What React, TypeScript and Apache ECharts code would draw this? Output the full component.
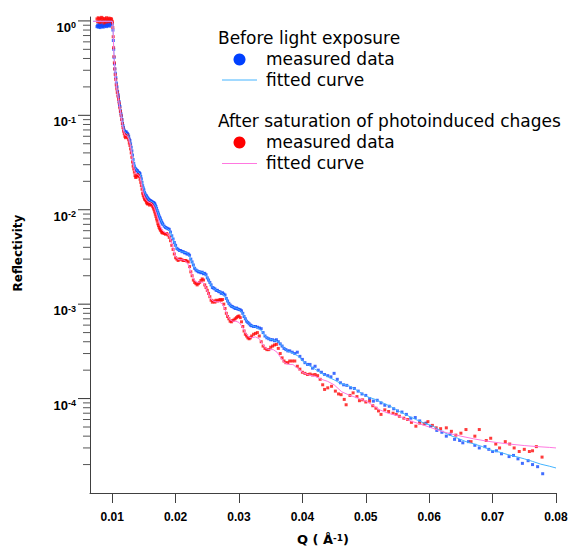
import React, { useEffect, useRef } from 'react';
import * as echarts from 'echarts';

// ---- axis tick values ----
const xTickValues = [0.01, 0.02, 0.03, 0.04, 0.05, 0.06, 0.07, 0.08];
const yMajorTicks = [1e-4, 1e-3, 1e-2, 1e-1, 1];
const yMinorTicks = [
  2e-5, 3e-5, 4e-5, 5e-5, 6e-5, 7e-5, 8e-5, 9e-5,
  2e-4, 3e-4, 4e-4, 5e-4, 6e-4, 7e-4, 8e-4, 9e-4,
  2e-3, 3e-3, 4e-3, 5e-3, 6e-3, 7e-3, 8e-3, 9e-3,
  2e-2, 3e-2, 4e-2, 5e-2, 6e-2, 7e-2, 8e-2, 9e-2,
  0.2, 0.3, 0.4, 0.5, 0.6, 0.7, 0.8, 0.9,
];

// ---- Before light exposure: measured data [Q, R] ----
const beforeMeasured: [number, number][] = [
  [0.0076, 0.87], [0.0077, 0.9], [0.0078, 0.86], [0.0079, 0.92], [0.008, 0.88], [0.0081, 0.85], [0.0082, 0.9],
  [0.0083, 0.93], [0.0084, 0.87], [0.0085, 0.89], [0.0086, 0.86], [0.0087, 0.91], [0.0088, 0.88], [0.0089, 0.94],
  [0.009, 0.9], [0.0091, 0.87], [0.0092, 0.92], [0.0093, 0.89], [0.0094, 0.95], [0.0095, 0.9], [0.0096, 0.88],
  [0.0097, 0.93], [0.0098, 0.97], [0.0099, 0.95], [0.01, 0.92],
  [0.01012, 0.8], [0.01018, 0.62], [0.01024, 0.5], [0.0103, 0.41], [0.01036, 0.35], [0.01042, 0.31], [0.0105, 0.28],
  [0.01058, 0.25], [0.01066, 0.22], [0.01075, 0.2], [0.01085, 0.18], [0.01095, 0.165], [0.011, 0.155], [0.01108, 0.14],
  [0.01115, 0.13], [0.01122, 0.124], [0.0113, 0.112], [0.01138, 0.104], [0.01146, 0.098], [0.01155, 0.09],
  [0.01163, 0.083], [0.0117, 0.078], [0.01178, 0.074], [0.01186, 0.07], [0.01195, 0.068], [0.012, 0.0665],
  [0.0121, 0.066], [0.0122, 0.067], [0.0123, 0.065], [0.0124, 0.064], [0.0125, 0.0625], [0.0126, 0.06],
  [0.0127, 0.056], [0.0128, 0.054], [0.0129, 0.05], [0.013, 0.046], [0.0131, 0.042], [0.0132, 0.038],
  [0.0133, 0.034], [0.0134, 0.031], [0.0135, 0.029], [0.0136, 0.0275], [0.0137, 0.027], [0.0138, 0.0265],
  [0.0139, 0.026], [0.014, 0.0258], [0.0141, 0.025], [0.0142, 0.0248], [0.0143, 0.0245], [0.0144, 0.024],
  [0.0145, 0.0225], [0.0146, 0.0212], [0.0147, 0.0195], [0.0148, 0.018], [0.0149, 0.017], [0.015, 0.0162],
  [0.0151, 0.0152], [0.0152, 0.0147], [0.0153, 0.0142], [0.0154, 0.014], [0.0155, 0.0136], [0.0156, 0.0133],
  [0.0157, 0.013], [0.0158, 0.0128], [0.0159, 0.0126], [0.016, 0.0125], [0.0161, 0.0124], [0.0162, 0.0122],
  [0.0163, 0.0121], [0.0164, 0.012], [0.0165, 0.0119], [0.0166, 0.0118], [0.0167, 0.0116], [0.0168, 0.0112],
  [0.0169, 0.0108], [0.017, 0.0103], [0.0171, 0.0098], [0.0172, 0.0094], [0.0173, 0.009], [0.0174, 0.0086],
  [0.0175, 0.0083], [0.0176, 0.008], [0.0177, 0.0077], [0.0178, 0.0074], [0.0179, 0.0072], [0.018, 0.007],
  [0.0182, 0.0067], [0.0184, 0.0065], [0.0186, 0.0064], [0.0188, 0.0063], [0.019, 0.0062], [0.0192, 0.0058],
  [0.0194, 0.0053], [0.0196, 0.0049], [0.0198, 0.0045], [0.02, 0.0042], [0.0202, 0.0039], [0.0204, 0.0038],
  [0.0206, 0.0037], [0.0208, 0.0037], [0.021, 0.0036], [0.0212, 0.0036], [0.0214, 0.0035], [0.0216, 0.0035],
  [0.0218, 0.0034], [0.022, 0.0034], [0.0222, 0.0033], [0.0224, 0.003], [0.0226, 0.0028], [0.0228, 0.0026],
  [0.023, 0.0024], [0.0232, 0.0023], [0.0234, 0.00225], [0.0236, 0.0022], [0.0238, 0.0022], [0.024, 0.00215],
  [0.0242, 0.00218], [0.0244, 0.0021], [0.0246, 0.00212], [0.0248, 0.00205], [0.025, 0.0019], [0.0252, 0.0018],
  [0.0254, 0.0017], [0.0256, 0.0016], [0.0258, 0.0015], [0.026, 0.00148], [0.0262, 0.00145], [0.0264, 0.0014],
  [0.0266, 0.0014], [0.0268, 0.00136], [0.027, 0.00135], [0.0272, 0.0013], [0.0274, 0.00132], [0.0276, 0.00128],
  [0.0278, 0.00125], [0.028, 0.00115], [0.0282, 0.00108], [0.0284, 0.00102], [0.0286, 0.00098], [0.0288, 0.00095],
  [0.029, 0.00094], [0.0292, 0.00092], [0.0294, 0.0009], [0.0296, 0.00091], [0.0298, 0.00089], [0.03, 0.00088],
  [0.0302, 0.00087], [0.0304, 0.00085], [0.0306, 0.0008], [0.0308, 0.00074], [0.031, 0.0007], [0.0312, 0.00066],
  [0.0314, 0.00064], [0.0316, 0.00062], [0.0318, 0.0006], [0.032, 0.00059], [0.0323, 0.00058], [0.0326, 0.00058],
  [0.0329, 0.00057], [0.0332, 0.00056], [0.0335, 0.00055], [0.0338, 0.0005], [0.0341, 0.00046], [0.0344, 0.00044],
  [0.0347, 0.00043], [0.035, 0.00042], [0.0353, 0.00042], [0.0356, 0.00041], [0.0359, 0.00042], [0.0362, 0.0004],
  [0.0365, 0.00038], [0.0368, 0.00036], [0.0371, 0.00034], [0.0374, 0.00033], [0.0377, 0.00032], [0.038, 0.00032],
  [0.0384, 0.00031], [0.0388, 0.0003], [0.0392, 0.00031], [0.0396, 0.00028], [0.04, 0.00026], [0.0404, 0.00024],
  [0.0408, 0.00023], [0.0412, 0.00023], [0.0416, 0.00021], [0.042, 0.00022], [0.0425, 0.0002], [0.043, 0.00019],
  [0.0435, 0.00018], [0.044, 0.000175], [0.0445, 0.00017], [0.045, 0.000185], [0.0455, 0.00016], [0.046, 0.000147],
  [0.0465, 0.00014], [0.047, 0.000138], [0.0476, 0.00013], [0.0482, 0.000128], [0.0488, 0.00012], [0.0494, 0.000112],
  [0.05, 0.000108], [0.0506, 0.0001], [0.0512, 9.4e-5], [0.0518, 9.6e-5], [0.0524, 9.0e-5], [0.053, 8.5e-5],
  [0.0537, 8.3e-5], [0.0544, 7.8e-5], [0.055, 7.4e-5], [0.0557, 7.2e-5], [0.0564, 6.8e-5], [0.0571, 6.2e-5],
  [0.0578, 6.3e-5], [0.0585, 5.8e-5], [0.0595, 5.5e-5], [0.0602, 5.1e-5], [0.0612, 4.6e-5], [0.062, 4.4e-5],
  [0.0627, 4.0e-5], [0.0633, 4.2e-5], [0.064, 3.7e-5], [0.0648, 3.6e-5], [0.0653, 3.4e-5], [0.0662, 3.5e-5],
  [0.0672, 3.2e-5], [0.0679, 3.0e-5], [0.0688, 3.1e-5], [0.0694, 2.9e-5], [0.07, 2.75e-5], [0.0706, 2.8e-5],
  [0.0714, 2.6e-5], [0.0726, 2.43e-5], [0.0733, 2.5e-5], [0.074, 2.3e-5], [0.0747, 2.06e-5], [0.0756, 2.2e-5],
  [0.0763, 2.0e-5], [0.0771, 1.9e-5], [0.0779, 1.6e-5],
];

// ---- After saturation: measured data [Q, R] ----
const afterMeasured: [number, number][] = [
  [0.0076, 1.05], [0.0077, 0.98], [0.0078, 1.08], [0.0079, 1.0], [0.008, 1.06], [0.0081, 0.96], [0.0082, 1.04],
  [0.0083, 1.09], [0.0084, 0.99], [0.0085, 1.07], [0.0086, 1.02], [0.0087, 0.95], [0.0088, 1.06], [0.0089, 1.03],
  [0.009, 0.97], [0.0091, 1.08], [0.0092, 1.01], [0.0093, 1.05], [0.0094, 0.98], [0.0095, 1.07], [0.0096, 1.03],
  [0.0097, 1.0], [0.0098, 1.06], [0.0099, 1.04], [0.01, 0.99], [0.01005, 0.95],
  [0.0101, 0.85], [0.01016, 0.68], [0.01022, 0.52], [0.01028, 0.42], [0.01034, 0.36], [0.0104, 0.31], [0.01048, 0.27],
  [0.01056, 0.24], [0.01064, 0.21], [0.01072, 0.19], [0.0108, 0.175], [0.0109, 0.16], [0.011, 0.148], [0.0111, 0.135],
  [0.0112, 0.12], [0.0113, 0.11], [0.0114, 0.1], [0.0115, 0.09], [0.0116, 0.082], [0.0117, 0.074], [0.0118, 0.068],
  [0.0119, 0.064], [0.012, 0.06], [0.0121, 0.058], [0.0122, 0.06], [0.0123, 0.062], [0.0124, 0.061], [0.0125, 0.058],
  [0.0126, 0.055], [0.0127, 0.051], [0.0128, 0.048], [0.0129, 0.044], [0.013, 0.04], [0.0131, 0.036], [0.0132, 0.032],
  [0.0133, 0.029], [0.0134, 0.027], [0.0135, 0.025], [0.0136, 0.023], [0.0137, 0.022], [0.0138, 0.0222], [0.0139, 0.023],
  [0.014, 0.0235], [0.0141, 0.0232], [0.0142, 0.023], [0.0143, 0.0225], [0.0144, 0.021], [0.0145, 0.0195],
  [0.0146, 0.018], [0.0147, 0.0165], [0.0148, 0.015], [0.0149, 0.0142], [0.015, 0.0136], [0.0151, 0.013],
  [0.0152, 0.0128], [0.0153, 0.0125], [0.0154, 0.012], [0.0155, 0.0117], [0.0156, 0.0115], [0.0157, 0.0116],
  [0.0158, 0.0118], [0.0159, 0.0112], [0.016, 0.0117], [0.0161, 0.0115], [0.0162, 0.0114], [0.0163, 0.0112],
  [0.0164, 0.0108], [0.0165, 0.0104], [0.0166, 0.01], [0.0167, 0.0095], [0.0168, 0.009], [0.0169, 0.0085],
  [0.017, 0.008], [0.0171, 0.0076], [0.0172, 0.0071], [0.0173, 0.0068], [0.0174, 0.0065], [0.0175, 0.0063],
  [0.0176, 0.0061], [0.0177, 0.006], [0.0178, 0.0058], [0.0179, 0.0057], [0.018, 0.0057], [0.0182, 0.0056],
  [0.0184, 0.0055], [0.0186, 0.0056], [0.0188, 0.0054], [0.019, 0.0051], [0.0192, 0.0047], [0.0194, 0.0042],
  [0.0196, 0.0038], [0.0198, 0.0034], [0.02, 0.0031], [0.0202, 0.003], [0.0204, 0.0029], [0.0206, 0.003],
  [0.0208, 0.003], [0.021, 0.00295], [0.0212, 0.0029], [0.0214, 0.0029], [0.0216, 0.0029], [0.0218, 0.00285],
  [0.022, 0.0028], [0.0222, 0.0025], [0.0224, 0.0022], [0.0226, 0.002], [0.0228, 0.0018], [0.023, 0.0017],
  [0.0232, 0.00165], [0.0234, 0.0016], [0.0236, 0.00165], [0.0238, 0.0017], [0.024, 0.00178], [0.0242, 0.00185],
  [0.0244, 0.0018], [0.0246, 0.0016], [0.0248, 0.0015], [0.025, 0.0014], [0.0252, 0.0013], [0.0254, 0.0012],
  [0.0256, 0.0011], [0.0258, 0.00105], [0.026, 0.00108], [0.0262, 0.00105], [0.0264, 0.0011], [0.0266, 0.00108],
  [0.0268, 0.0011], [0.027, 0.00112], [0.0272, 0.0011], [0.0274, 0.00112], [0.0276, 0.001], [0.0278, 0.0009],
  [0.028, 0.0008], [0.0282, 0.00074], [0.0284, 0.0007], [0.0286, 0.00066], [0.0288, 0.00065], [0.029, 0.00067],
  [0.0292, 0.00068], [0.0294, 0.0007], [0.0296, 0.00072], [0.0298, 0.00074], [0.03, 0.00075], [0.0302, 0.00072],
  [0.0304, 0.00065], [0.0306, 0.00058], [0.0308, 0.00052], [0.031, 0.00048], [0.0312, 0.00046], [0.0314, 0.00044],
  [0.0316, 0.00043], [0.0318, 0.00044], [0.032, 0.00046], [0.0323, 0.00048], [0.0326, 0.00049], [0.0329, 0.0005],
  [0.0332, 0.00046], [0.0335, 0.0004], [0.0338, 0.00036], [0.0341, 0.00034], [0.0344, 0.00033], [0.0347, 0.00033],
  [0.035, 0.00035], [0.0353, 0.00036], [0.0356, 0.00037], [0.0359, 0.000375], [0.0362, 0.00034], [0.0365, 0.0003],
  [0.0368, 0.00027], [0.0371, 0.00025], [0.0374, 0.00024], [0.0377, 0.00024], [0.038, 0.00025], [0.0384, 0.00025],
  [0.0388, 0.00025], [0.0392, 0.00022], [0.0396, 0.000205], [0.04, 0.00019], [0.0404, 0.000185], [0.0408, 0.00018],
  [0.0412, 0.000182], [0.0416, 0.000178], [0.042, 0.00018], [0.0424, 0.000175], [0.0428, 0.00016], [0.0432, 0.00014],
  [0.0435, 0.000125], [0.044, 0.00013], [0.0446, 0.000135], [0.0452, 0.00012], [0.0457, 0.000112], [0.0461, 0.00011],
  [0.0466, 9.8e-5], [0.0469, 8.6e-5], [0.0475, 0.000108], [0.048, 0.000115], [0.0486, 0.000105], [0.049, 9.5e-5],
  [0.0495, 9.7e-5], [0.05, 9.2e-5], [0.0506, 9.4e-5], [0.0511, 8.4e-5], [0.0516, 7.9e-5], [0.052, 7.4e-5],
  [0.0524, 6.8e-5], [0.053, 7.6e-5], [0.0536, 7.3e-5], [0.0543, 7.0e-5], [0.0548, 6.8e-5], [0.0553, 6.5e-5],
  [0.056, 6.2e-5], [0.0566, 6.0e-5], [0.0572, 5.6e-5], [0.0579, 5.1e-5], [0.0585, 5.5e-5], [0.0592, 5.4e-5],
  [0.0598, 5.7e-5], [0.0605, 5.2e-5], [0.0611, 4.9e-5], [0.0618, 4.8e-5], [0.0627, 4.9e-5], [0.0635, 4.5e-5],
  [0.0642, 4.1e-5], [0.065, 4.3e-5], [0.0658, 4.7e-5], [0.0666, 3.5e-5], [0.0672, 4.0e-5], [0.0679, 4.7e-5],
  [0.069, 3.6e-5], [0.0697, 3.8e-5], [0.0705, 3.3e-5], [0.0711, 3.0e-5], [0.072, 3.5e-5], [0.0727, 3.3e-5],
  [0.0734, 3.0e-5], [0.0742, 2.75e-5], [0.075, 2.9e-5], [0.0758, 2.75e-5], [0.0763, 2.8e-5], [0.0769, 3.1e-5],
  [0.0778, 2.4e-5],
];

// ---- Before light exposure: fitted curve ----
const beforeFit: [number, number][] = [
  [0.007, 0.99], [0.01, 0.99], [0.0101, 0.95], [0.01015, 0.8], [0.0102, 0.6], [0.0103, 0.42], [0.0104, 0.33],
  [0.0105, 0.27], [0.0106, 0.23], [0.0108, 0.18], [0.011, 0.15], [0.0112, 0.125], [0.0114, 0.102], [0.0116, 0.085],
  [0.0118, 0.073], [0.012, 0.067], [0.0122, 0.065], [0.0124, 0.063], [0.0126, 0.059], [0.0128, 0.053], [0.013, 0.046],
  [0.0132, 0.038], [0.0134, 0.032], [0.0136, 0.028], [0.0138, 0.0265], [0.014, 0.0255], [0.0142, 0.0248],
  [0.0144, 0.0238], [0.0146, 0.0215], [0.0148, 0.0185], [0.015, 0.0163], [0.0152, 0.0148], [0.0154, 0.014],
  [0.0156, 0.0133], [0.0158, 0.0127], [0.016, 0.0124], [0.0163, 0.0121], [0.0166, 0.0117], [0.0169, 0.0108],
  [0.0172, 0.0095], [0.0175, 0.0083], [0.0178, 0.0074], [0.0181, 0.0068], [0.0184, 0.0065], [0.0187, 0.0063],
  [0.019, 0.0061], [0.0193, 0.0056], [0.0196, 0.0049], [0.0199, 0.0043], [0.0202, 0.0039], [0.0205, 0.0037],
  [0.0209, 0.0036], [0.0213, 0.00355], [0.0217, 0.0035], [0.0221, 0.0033], [0.0225, 0.0029], [0.0229, 0.0025],
  [0.0233, 0.00228], [0.0237, 0.00222], [0.0241, 0.00218], [0.0245, 0.00212], [0.0249, 0.00198], [0.0253, 0.00175],
  [0.0257, 0.00155], [0.0261, 0.00145], [0.0265, 0.0014], [0.027, 0.00135], [0.0275, 0.00128], [0.0279, 0.00118],
  [0.0283, 0.00104], [0.0287, 0.00096], [0.0292, 0.00092], [0.0297, 0.0009], [0.0302, 0.00086], [0.0306, 0.0008],
  [0.031, 0.0007], [0.0314, 0.00064], [0.0318, 0.0006], [0.0324, 0.00058], [0.033, 0.00056], [0.0336, 0.00052],
  [0.0341, 0.00046], [0.0346, 0.00043], [0.0352, 0.00042], [0.0358, 0.00041], [0.0364, 0.00039], [0.037, 0.00035],
  [0.0376, 0.00032], [0.0382, 0.00031], [0.0388, 0.000295], [0.0394, 0.00028], [0.04, 0.00025], [0.041, 0.000225],
  [0.042, 0.000205], [0.043, 0.000185], [0.044, 0.00017], [0.045, 0.000158], [0.046, 0.000145], [0.0475, 0.000135],
  [0.049, 0.000118], [0.05, 0.000106], [0.0515, 9.8e-5], [0.0527, 9.0e-5], [0.054, 8.2e-5], [0.0553, 7.3e-5],
  [0.0566, 6.6e-5], [0.0579, 6.0e-5], [0.0592, 5.5e-5], [0.0606, 5.1e-5], [0.062, 4.5e-5], [0.0632, 4.1e-5],
  [0.0645, 3.8e-5], [0.0658, 3.5e-5], [0.0671, 3.3e-5], [0.0684, 3.1e-5], [0.0697, 2.85e-5], [0.071, 2.72e-5],
  [0.0724, 2.55e-5], [0.0737, 2.43e-5], [0.075, 2.3e-5], [0.0763, 2.16e-5], [0.0776, 2.02e-5], [0.079, 1.92e-5],
  [0.08, 1.84e-5],
];

// ---- After saturation: fitted curve ----
const afterFit: [number, number][] = [
  [0.007, 0.99], [0.01, 0.99], [0.0101, 0.93], [0.01015, 0.78], [0.0102, 0.58], [0.0103, 0.4], [0.0104, 0.32],
  [0.0105, 0.26], [0.0106, 0.22], [0.0108, 0.175], [0.011, 0.145], [0.0112, 0.12], [0.0114, 0.098], [0.0116, 0.08],
  [0.0118, 0.068], [0.012, 0.062], [0.0122, 0.061], [0.0124, 0.06], [0.0126, 0.056], [0.0128, 0.05], [0.013, 0.042],
  [0.0132, 0.034], [0.0134, 0.028], [0.0136, 0.025], [0.0138, 0.024], [0.014, 0.0237], [0.0142, 0.0232],
  [0.0144, 0.022], [0.0146, 0.019], [0.0148, 0.016], [0.015, 0.0142], [0.0152, 0.0132], [0.0154, 0.0126],
  [0.0156, 0.0122], [0.0158, 0.012], [0.0161, 0.0118], [0.0164, 0.0113], [0.0167, 0.0103], [0.017, 0.009],
  [0.0173, 0.0077], [0.0176, 0.0067], [0.0179, 0.0061], [0.0182, 0.0058], [0.0185, 0.0057], [0.0188, 0.0055],
  [0.0191, 0.0051], [0.0194, 0.0044], [0.0197, 0.0037], [0.02, 0.0032], [0.0203, 0.003], [0.0207, 0.00295],
  [0.0211, 0.00295], [0.0215, 0.0029], [0.0219, 0.0027], [0.0223, 0.0023], [0.0227, 0.00195], [0.0231, 0.00175],
  [0.0235, 0.0017], [0.0239, 0.00172], [0.0243, 0.0017], [0.0247, 0.00155], [0.0251, 0.00132], [0.0255, 0.00115],
  [0.0259, 0.00108], [0.0264, 0.00106], [0.0269, 0.00106], [0.0274, 0.001], [0.0278, 0.00088], [0.0282, 0.00075],
  [0.0286, 0.00068], [0.029, 0.00066], [0.0295, 0.00066], [0.03, 0.00064], [0.0305, 0.00058], [0.031, 0.0005],
  [0.0315, 0.00045], [0.032, 0.00044], [0.0326, 0.00045], [0.0332, 0.00043], [0.0337, 0.00038], [0.0342, 0.00034],
  [0.0348, 0.00033], [0.0354, 0.00033], [0.036, 0.00031], [0.0366, 0.00027], [0.0372, 0.00024], [0.0378, 0.00023],
  [0.0385, 0.00023], [0.0392, 0.00021], [0.04, 0.00019], [0.041, 0.000178], [0.042, 0.000172], [0.043, 0.00016],
  [0.044, 0.000152], [0.045, 0.00014], [0.0462, 0.000118], [0.0475, 0.000108], [0.049, 0.0001], [0.05, 9.4e-5],
  [0.051, 8.6e-5], [0.0522, 7.6e-5], [0.0535, 7.0e-5], [0.0553, 6.5e-5], [0.057, 5.8e-5], [0.0585, 5.4e-5],
  [0.06, 5.0e-5], [0.0615, 4.6e-5], [0.063, 4.3e-5], [0.065, 4.0e-5], [0.067, 3.75e-5], [0.069, 3.55e-5],
  [0.071, 3.4e-5], [0.073, 3.28e-5], [0.075, 3.18e-5], [0.077, 3.1e-5], [0.079, 3.04e-5], [0.08, 3.0e-5],
];

const X_MIN = 0.0065;
const X_MAX = 0.08;
const Y_MIN = 1e-5;
const Y_MAX = 1.1;

const LEGEND_FONT = '"DejaVu Sans", "Noto Sans", sans-serif';
const AXIS_FONT = '"Liberation Sans", Arial, sans-serif';
const NAME_FONT = '"DejaVu Sans", "Liberation Sans", sans-serif';

// custom series that draws a horizontal tick of fixed length to the left of the y axis
const tickSeries = (name: string, values: number[], len: number, color: string, width: number) => ({
  type: 'custom',
  name,
  coordinateSystem: 'cartesian2d',
  data: values.map((v) => [X_MIN, v]),
  encode: { x: 0, y: 1 },
  clip: false,
  silent: true,
  z: 10,
  renderItem: (_params: any, api: any) => {
    const p = api.coord([api.value(0), api.value(1)]);
    return {
      type: 'line',
      shape: { x1: p[0] - len, y1: p[1], x2: p[0], y2: p[1] },
      style: { stroke: color, lineWidth: width },
    };
  },
});

export default function App() {
  const ref = useRef<HTMLDivElement>(null);

  useEffect(() => {
    document.body.style.margin = '0';
    if (!ref.current) return;
    const chart = echarts.init(ref.current, undefined, { renderer: 'svg' });

    const legendText = (text: string, x: number, y: number) => ({
      type: 'text',
      x,
      y,
      style: {
        text,
        fontSize: 17,
        fontFamily: LEGEND_FONT,
        fill: '#000',
        verticalAlign: 'middle',
        align: 'left',
      },
    });

    chart.setOption({
      animation: false,
      backgroundColor: '#fff',
      grid: { left: 90, right: 16, top: 17, bottom: 55, containLabel: false, outerBoundsMode: 'none' },
      xAxis: {
        type: 'value',
        min: X_MIN,
        max: X_MAX,
        splitLine: { show: false },
        axisLine: { show: true, lineStyle: { color: '#404040', width: 1 } },
        axisTick: { show: true, customValues: xTickValues, length: 10, lineStyle: { color: '#404040' } },
        axisLabel: {
          customValues: xTickValues,
          formatter: (v: number) => v.toFixed(2),
          fontSize: 12,
          fontWeight: 'bold',
          fontFamily: AXIS_FONT,
          color: '#000',
          margin: 18,
        },
        name: '{n|Q ( Å}{s|-1}{n|)}',
        nameLocation: 'middle',
        nameGap: 40,
        nameTextStyle: {
          rich: {
            n: { fontSize: 13, fontWeight: 'bold', fontFamily: NAME_FONT, color: '#000' },
            s: { fontSize: 9, fontWeight: 'bold', fontFamily: NAME_FONT, color: '#000', verticalAlign: 'top' },
          },
        },
      },
      yAxis: {
        type: 'log',
        logBase: 10,
        min: Y_MIN,
        max: Y_MAX,
        position: 'left',
        splitLine: { show: false },
        axisLine: { show: true, lineStyle: { color: '#404040', width: 1 } },
        axisTick: { show: false },
        axisLabel: {
          customValues: yMajorTicks,
          margin: 14,
          verticalAlign: 'top',
          formatter: (v: number) => `{b|10}{s|${Math.round(Math.log10(v))}}`,
          rich: {
            b: { fontSize: 13, lineHeight: 13, fontWeight: 'bold', fontFamily: AXIS_FONT, color: '#000' },
            s: { fontSize: 9, lineHeight: 9, fontWeight: 'bold', fontFamily: AXIS_FONT, color: '#000', verticalAlign: 'top' },
          },
        },
      },
      series: [
        {
          type: 'scatter',
          name: 'Before light exposure - measured data',
          data: beforeMeasured,
          symbol: 'rect',
          symbolSize: 3,
          itemStyle: { color: '#1048ff' },
          silent: true,
        },
        {
          type: 'scatter',
          name: 'After saturation - measured data',
          data: afterMeasured,
          symbol: 'rect',
          symbolSize: 3,
          itemStyle: { color: '#ff0a0a' },
          silent: true,
        },
        {
          type: 'line',
          name: 'Before light exposure - fitted curve',
          data: beforeFit,
          symbol: 'none',
          showSymbol: false,
          lineStyle: { color: '#45b4ff', width: 1 },
          silent: true,
        },
        {
          type: 'line',
          name: 'After saturation - fitted curve',
          data: afterFit,
          symbol: 'none',
          showSymbol: false,
          lineStyle: { color: '#ff78e0', width: 1 },
          silent: true,
        },
        tickSeries('y major ticks', yMajorTicks, 12, '#333333', 1),
        tickSeries('y minor ticks', yMinorTicks, 7, '#555555', 1),
      ],
      graphic: [
        {
          type: 'text',
          x: 18,
          y: 253,
          rotation: Math.PI / 2,
          style: {
            text: 'Reflectivity',
            fontSize: 12,
            fontWeight: 'bold',
            fontFamily: NAME_FONT,
            fill: '#000',
            align: 'center',
            verticalAlign: 'middle',
          },
        },
        legendText('Before light exposure', 218, 38),
        { type: 'circle', shape: { cx: 239.5, cy: 59.5, r: 6 }, style: { fill: '#0040ff' } },
        legendText('measured data', 266, 59),
        { type: 'line', shape: { x1: 222, y1: 80, x2: 257, y2: 80 }, style: { stroke: '#45b4ff', lineWidth: 1 } },
        legendText('fitted curve', 266, 80),
        legendText('After saturation of photoinduced chages', 218, 121),
        { type: 'circle', shape: { cx: 239.5, cy: 142.5, r: 6 }, style: { fill: '#ff0000' } },
        legendText('measured data', 266, 142),
        { type: 'line', shape: { x1: 222, y1: 163.5, x2: 257, y2: 163.5 }, style: { stroke: '#ff78e0', lineWidth: 1 } },
        legendText('fitted curve', 266, 163),
      ],
    });

    return () => chart.dispose();
  }, []);

  return <div ref={ref} style={{ width: 572, height: 548 }} />;
}
